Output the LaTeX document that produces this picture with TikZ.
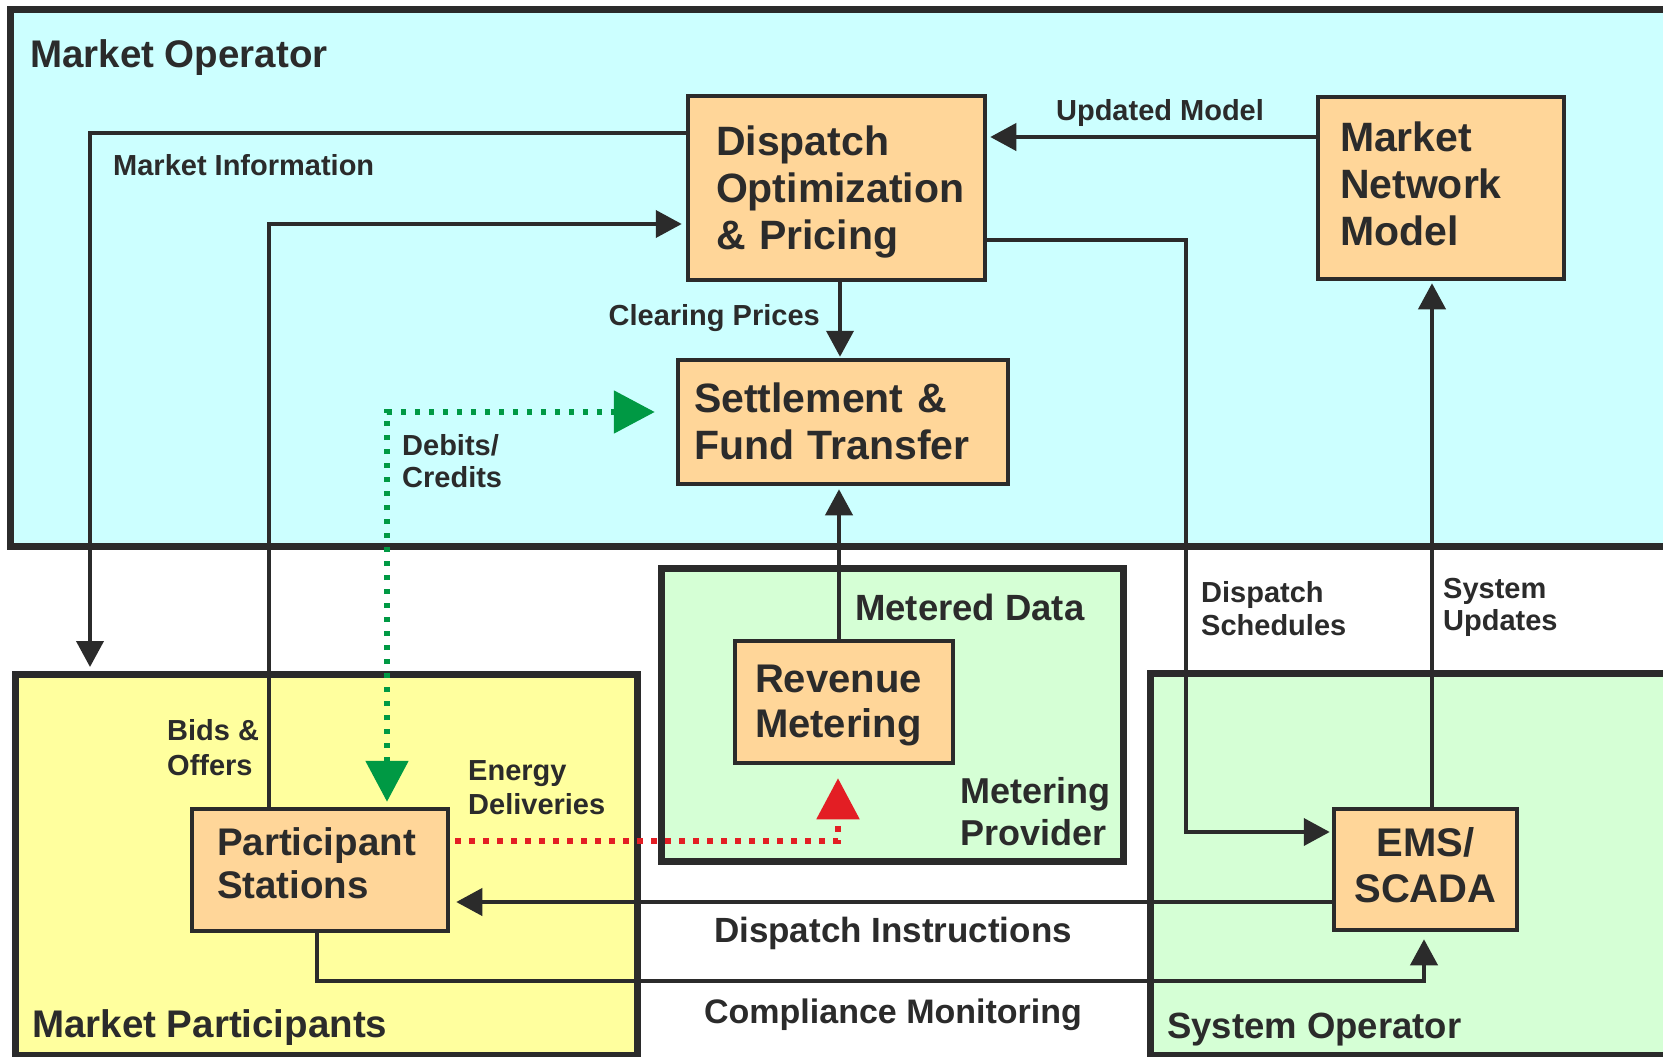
\documentclass[tikz,border=0pt]{standalone}
\usepackage{fontspec}
\setmainfont{Liberation Sans}
\usetikzlibrary{arrows.meta}
\hyphenpenalty=10000
\exhyphenpenalty=10000

\definecolor{ink}{RGB}{43,43,43}
\definecolor{opfill}{RGB}{204,255,255}
\definecolor{partfill}{RGB}{255,255,158}
\definecolor{sysfill}{RGB}{213,255,213}
\definecolor{boxfill}{RGB}{255,214,153}
\definecolor{credgreen}{RGB}{0,153,68}
\definecolor{energyred}{RGB}{227,30,36}

\newcommand\bfsize[2]{\fontsize{#1}{#2}\selectfont\bfseries}

\begin{document}
\begin{tikzpicture}[x=1pt,y=-1pt,
  region/.style={rectangle, draw=ink, line width=7pt, inner sep=0pt},
  unit/.style={rectangle, draw=ink, fill=boxfill, line width=4.5pt, text=ink,
    inner ysep=0pt, align=left},
  lbl/.style={text=ink, inner sep=0pt, align=left, font=\bfsize{29}{33}},
  conn/.style={draw=ink, line width=4pt},
  blacktip/.style={-{Triangle[length=26pt,width=27pt]}},
  dotgreen/.style={draw=credgreen, line width=5.5pt, dash pattern=on 5.5pt off 8.5pt},
  dotred/.style={draw=energyred, line width=5.5pt, dash pattern=on 5.5pt off 8.5pt},
]
\useasboundingbox (0,0) rectangle (1663,1057);
\clip (0,0) rectangle (1663,1057);
\fill[white] (0,0) rectangle (1663,1057);

% organisational regions
\node[region, fill=opfill, minimum width=1710pt, minimum height=536pt] (mo) at (865,278) {};
\node[region, fill=partfill, minimum width=622pt, minimum height=381pt] (mp) at (326,864.5) {};
\node[region, fill=sysfill, minimum width=461.5pt, minimum height=293pt] (mprov) at (892.25,715) {};
\node[region, fill=sysfill, minimum width=570pt, minimum height=381.5pt] (so) at (1435,864.25) {};

% region titles (multi-line labels are anchored on their last baseline)
\node[lbl, font=\bfsize{38.5}{44}, anchor=base west] (moLbl) at (30,67) {Market Operator};
\node[lbl, font=\bfsize{38.5}{44}, anchor=base west] (mpLbl) at (32,1037) {Market Participants};
\node[lbl, font=\bfsize{36.5}{42}, anchor=base west] (soLbl) at (1167,1038) {System Operator};
\node[lbl, font=\bfsize{36}{42}, anchor=base west] (mprovLbl) at (960,845) {Metering\\Provider};

% functional units
\node[unit, minimum width=297pt, minimum height=184pt, inner xsep=28pt, text width=241pt,
  text height=30pt, text depth=96pt, font=\bfsize{41}{47}] (disp) at (836.5,188)
  {Dispatch\\Optimization\\\& Pricing};
\node[unit, minimum width=246pt, minimum height=182pt, inner xsep=22pt, text width=202pt,
  text height=30pt, text depth=104pt, font=\bfsize{41}{47}] (mnm) at (1441,188)
  {Market\\Network\\Model};
\node[unit, minimum width=330pt, minimum height=124pt, inner xsep=16pt, text width=298pt,
  text height=30pt, text depth=50pt, font=\bfsize{41}{47}] (settle) at (843,422)
  {Settlement \&\\Fund Transfer};
\node[unit, minimum width=218pt, minimum height=122pt, inner xsep=20pt, text width=178pt,
  text height=30pt, text depth=50pt, font=\bfsize{40}{45}] (rev) at (844,702)
  {Revenue\\Metering};
\node[unit, minimum width=256pt, minimum height=122pt, inner xsep=25pt, text width=206pt,
  text height=30pt, text depth=60pt, font=\bfsize{38.5}{43}] (ps) at (320,870)
  {Participant\\Stations};
\node[unit, align=center, minimum width=183pt, minimum height=121pt, inner xsep=8pt, text width=167pt,
  text height=30pt, text depth=57pt, font=\bfsize{40}{46}] (ems) at (1425.5,869.5)
  {EMS/\\SCADA};

% information flows
\draw[conn, blacktip, shorten >=3.5pt] (disp.west |- 0,133) -- (90,133) -- (90,0 |- mp.north);
\draw[conn, blacktip, shorten >=4pt] (269,0 |- ps.north) -- (269,224) -- (disp.west |- 0,224);
\draw[conn, blacktip, shorten >=1pt] (840,0 |- disp.south) -- (840,0 |- settle.north);
\draw[conn, blacktip, shorten >=3pt] (mnm.west |- 0,137) -- (disp.east |- 0,137);
\draw[conn, blacktip, shorten >=2pt] (disp.east |- 0,240) -- (1186,240) -- (1186,832) -- (ems.west |- 0,832);
\draw[conn, blacktip, shorten >=2pt] (1432,0 |- ems.north) -- (1432,0 |- mnm.south);
\draw[conn, blacktip, shorten >=3pt] (839,0 |- rev.north) -- (839,0 |- settle.south);
\draw[conn, blacktip, shorten >=6pt] (ems.west |- 0,902) -- (ps.east |- 0,902);
\draw[conn, blacktip, shorten >=7pt] (317,0 |- ps.south) -- (317,981) -- (1424,981) -- (1424,0 |- ems.south);

% money and energy flows
\draw[dotgreen, {Triangle[length=41pt,width=42pt]}-{Triangle[length=41pt,width=42pt]},
  shorten <=5pt, shorten >=21pt]
  (387,0 |- ps.north) -- (387,412) -- (settle.west |- 0,412);
\draw[dotred, -{Triangle[length=41pt,width=42pt]}, shorten <=5pt, shorten >=13pt]
  (ps.east |- 0,841) -- (838,841) -- (838,0 |- rev.south);

% flow labels
\node[lbl, anchor=base west] (miLbl) at (113,175) {Market Information};
\node[lbl, anchor=base] (umLbl) at (1160,120) {Updated Model};
\node[lbl, anchor=base east] (cpLbl) at (820,325) {Clearing Prices};
\node[lbl, font=\bfsize{29}{32}, anchor=base west] (dcLbl) at (402,487) {Debits/\\Credits};
\node[lbl, font=\bfsize{36.5}{42}, anchor=base west] (mdLbl) at (855,620) {Metered Data};
\node[lbl, anchor=base west] (dsLbl) at (1201,635) {Dispatch\\Schedules};
\node[lbl, font=\bfsize{29}{32}, anchor=base west] (suLbl) at (1443,630) {System\\Updates};
\node[lbl, font=\bfsize{29}{35}, anchor=base west] (boLbl) at (167,775) {Bids \&\\Offers};
\node[lbl, font=\bfsize{29}{34}, anchor=base west] (edLbl) at (468,814) {Energy\\Deliveries};
\node[lbl, font=\bfsize{35}{40}, anchor=base] (diLbl) at (893,942) {Dispatch Instructions};
\node[lbl, font=\bfsize{34}{40}, anchor=base] (cmLbl) at (893,1023) {Compliance Monitoring};
\end{tikzpicture}
\end{document}
